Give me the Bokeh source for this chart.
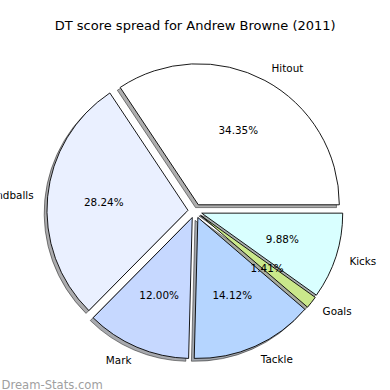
import math
from bokeh.plotting import figure
from bokeh.models import Range1d, ColumnDataSource
from bokeh.core.properties import value
from bokeh.embed import file_html
from bokeh.resources import INLINE

# ---- data ----
categories = ["Hitout", "Handballs", "Mark", "Tackle", "Goals", "Kicks"]
percentages = [34.35, 28.24, 12.00, 14.12, 1.41, 9.88]
colors = ["#ffffff", "#eaf0ff", "#c6d8ff", "#b5d5ff", "#cae88b", "#d9ffff"]
explode = [0.05, 0.05, 0.05, 0.05, 0.05, 0.05]
title_text = "DT score spread for Andrew Browne (2011)"
watermark = "Dream-Stats.com"

# ---- layout (reference pixel coordinates; y is negated so it points up) ----
CX, CY = 194.5, -210.5
R = 141.0
SHADOW = 0.02 * R
FONT = "DejaVu Sans"
W = 390

p = figure(width=W, height=W, output_backend="svg", toolbar_location=None,
           x_range=Range1d(0, W), y_range=Range1d(-W, 0),
           min_border=0, min_border_left=0, min_border_right=0,
           min_border_top=0, min_border_bottom=0)
p.axis.visible = False
p.grid.visible = False
p.outline_line_color = None
p.background_fill_color = "white"
p.border_fill_color = "white"

total = sum(percentages)
starts, ends, xs, ys = [], [], [], []
lx, ly, lalign, px_, py_, ptxt = [], [], [], [], [], []
shadow_fill = []
a = 0.0
for cat, v, c, e in zip(categories, percentages, colors, explode):
    a0 = a
    a1 = a + 2 * math.pi * v / total
    mid = (a0 + a1) / 2
    cx = CX + e * R * math.cos(mid)
    cy = CY + e * R * math.sin(mid)
    starts.append(a0); ends.append(a1); xs.append(cx); ys.append(cy)
    lx.append(cx + 1.1 * R * math.cos(mid))
    ly.append(cy + 1.1 * R * math.sin(mid))
    lalign.append("left" if math.cos(mid) > 0 else "right")
    px_.append(cx + 0.6 * R * math.cos(mid))
    py_.append(cy + 0.6 * R * math.sin(mid))
    ptxt.append("%.2f%%" % v)
    rgb = [int(c[i:i + 2], 16) for i in (1, 3, 5)]
    shadow_fill.append("#%02x%02x%02x" % tuple(int(0.3 * x) for x in rgb))
    a = a1

src = ColumnDataSource(dict(x=xs, y=ys, sx=[x - SHADOW for x in xs],
                            sy=[y - SHADOW for y in ys],
                            start=starts, end=ends, color=colors,
                            shadow=shadow_fill))

# shadows
p.wedge(x="sx", y="sy", radius=R, start_angle="start", end_angle="end",
        source=src, fill_color="shadow", fill_alpha=0.45,
        line_color="black", line_alpha=0.45, line_width=1)
# wedges
p.wedge(x="x", y="y", radius=R, start_angle="start", end_angle="end",
        source=src, fill_color="color", line_color="black", line_width=0.9)

# category labels
lsrc = ColumnDataSource(dict(x=lx, y=ly, t=categories, align=lalign))
p.text(x="x", y="y", text="t", source=lsrc, text_align="align",
       text_baseline="middle", text_font=value(FONT),
       text_font_size="10.4px", text_color="black")

# percentage labels
psrc = ColumnDataSource(dict(x=px_, y=py_, t=ptxt))
p.text(x="x", y="y", text="t", source=psrc, text_align="center",
       text_baseline="middle", text_font=value(FONT),
       text_font_size="10.4px", text_color="black")

# title
p.text(x=[194.7], y=[-25.0], text=[title_text], text_align="center",
       text_baseline="middle", text_font=value(FONT),
       text_font_size="13px", text_color="black")

# watermark
p.text(x=[1.0], y=[-384.0], text=[watermark], text_align="left",
       text_baseline="alphabetic", text_font=value(FONT),
       text_font_size="11.6px", text_color="#a0a0a0")

open("out.html", "w").write(file_html(p, INLINE))
